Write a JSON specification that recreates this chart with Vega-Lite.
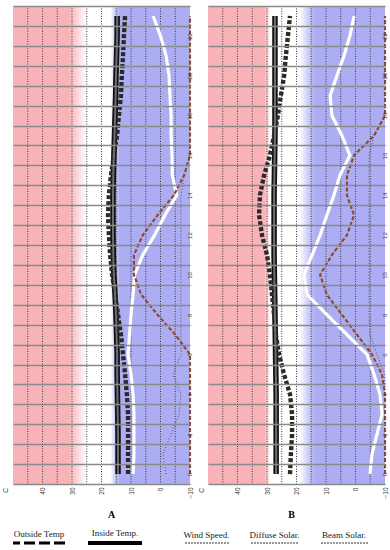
{
  "$schema": "https://vega.github.io/schema/vega-lite/v6.json",
  "background": "white",
  "padding": {"left": 2, "top": 4, "right": 0, "bottom": 0},
  "config": {"view": {"stroke": null}, "font": "Liberation Sans", "axis": {"labelOverlap": false, "labelFlush": false}},
  "columns": 1,
  "datasets": {
    "grid": [{"g": 45}, {"g": 40}, {"g": 35}, {"g": 30}, {"g": 25}, {"g": 20}, {"g": 15}, {"g": 10}, {"g": 5}, {"g": 0}, {"g": -5}],
    "bgA": [
      {"kind": "hot", "from": 50, "to": 31},
      {"kind": "hotfade", "from": 31, "to": 25},
      {"kind": "coldfade", "from": 17, "to": 14.3},
      {"kind": "cold", "from": 14.3, "to": -10}
    ],
    "bgB": [
      {"kind": "hot", "from": 50, "to": 30.5},
      {"kind": "hotfade", "from": 30.5, "to": 29},
      {"kind": "coldfade", "from": 19, "to": 14},
      {"kind": "cold", "from": 14, "to": -10}
    ],
    "linesA": [
      {"s": "Inside", "hour": 0, "t": 14.4}, {"s": "Inside", "hour": 1, "t": 14.4}, {"s": "Inside", "hour": 2, "t": 14.4}, {"s": "Inside", "hour": 3, "t": 14.5}, {"s": "Inside", "hour": 4, "t": 14.6}, {"s": "Inside", "hour": 5, "t": 14.7}, {"s": "Inside", "hour": 6, "t": 14.7}, {"s": "Inside", "hour": 7, "t": 14.9}, {"s": "Inside", "hour": 8, "t": 15.1}, {"s": "Inside", "hour": 9, "t": 15.4}, {"s": "Inside", "hour": 10, "t": 15.8}, {"s": "Inside", "hour": 11, "t": 16.0}, {"s": "Inside", "hour": 12, "t": 16.1}, {"s": "Inside", "hour": 13, "t": 16.1}, {"s": "Inside", "hour": 14, "t": 16.1}, {"s": "Inside", "hour": 15, "t": 16.0}, {"s": "Inside", "hour": 16, "t": 15.8}, {"s": "Inside", "hour": 17, "t": 15.6}, {"s": "Inside", "hour": 18, "t": 15.4}, {"s": "Inside", "hour": 19, "t": 15.2}, {"s": "Inside", "hour": 20, "t": 15.1}, {"s": "Inside", "hour": 21, "t": 14.9}, {"s": "Inside", "hour": 22, "t": 14.7}, {"s": "Inside", "hour": 23, "t": 14.7},
      {"s": "Outside", "hour": 0, "t": 11.0}, {"s": "Outside", "hour": 1, "t": 11.0}, {"s": "Outside", "hour": 2, "t": 11.0}, {"s": "Outside", "hour": 3, "t": 11.0}, {"s": "Outside", "hour": 4, "t": 11.4}, {"s": "Outside", "hour": 5, "t": 12.0}, {"s": "Outside", "hour": 6, "t": 12.7}, {"s": "Outside", "hour": 7, "t": 13.4}, {"s": "Outside", "hour": 8, "t": 14.4}, {"s": "Outside", "hour": 9, "t": 15.4}, {"s": "Outside", "hour": 10, "t": 16.4}, {"s": "Outside", "hour": 11, "t": 17.1}, {"s": "Outside", "hour": 12, "t": 17.5}, {"s": "Outside", "hour": 13, "t": 17.8}, {"s": "Outside", "hour": 14, "t": 17.5}, {"s": "Outside", "hour": 15, "t": 16.8}, {"s": "Outside", "hour": 16, "t": 15.8}, {"s": "Outside", "hour": 17, "t": 14.7}, {"s": "Outside", "hour": 18, "t": 14.1}, {"s": "Outside", "hour": 19, "t": 13.4}, {"s": "Outside", "hour": 20, "t": 13.1}, {"s": "Outside", "hour": 21, "t": 12.7}, {"s": "Outside", "hour": 22, "t": 12.4}, {"s": "Outside", "hour": 23, "t": 12.0},
      {"s": "Wind", "hour": 0, "t": 9.3}, {"s": "Wind", "hour": 1, "t": 9.0}, {"s": "Wind", "hour": 2, "t": 9.0}, {"s": "Wind", "hour": 3, "t": 9.0}, {"s": "Wind", "hour": 4, "t": 9.3}, {"s": "Wind", "hour": 5, "t": 10.0}, {"s": "Wind", "hour": 6, "t": 11.0}, {"s": "Wind", "hour": 7, "t": 10.5}, {"s": "Wind", "hour": 8, "t": 10.0}, {"s": "Wind", "hour": 9, "t": 9.3}, {"s": "Wind", "hour": 10, "t": 8.8}, {"s": "Wind", "hour": 11, "t": 6.0}, {"s": "Wind", "hour": 12, "t": 2.0}, {"s": "Wind", "hour": 13, "t": -1.5}, {"s": "Wind", "hour": 14, "t": -5.5}, {"s": "Wind", "hour": 15, "t": -4.0}, {"s": "Wind", "hour": 16, "t": -3.9}, {"s": "Wind", "hour": 17, "t": -3.6}, {"s": "Wind", "hour": 18, "t": -3.6}, {"s": "Wind", "hour": 19, "t": -3.2}, {"s": "Wind", "hour": 20, "t": -2.9}, {"s": "Wind", "hour": 21, "t": -1.9}, {"s": "Wind", "hour": 22, "t": 0.0}, {"s": "Wind", "hour": 23, "t": 2.5},
      {"s": "Beam", "hour": 0, "t": -1.9}, {"s": "Beam", "hour": 1, "t": -0.8}, {"s": "Beam", "hour": 2, "t": -3.6}, {"s": "Beam", "hour": 3, "t": -6.3}, {"s": "Beam", "hour": 4, "t": -6.9}, {"s": "Beam", "hour": 5, "t": -4.2}, {"s": "Beam", "hour": 6, "t": -7.0}, {"s": "Beam", "hour": 7, "t": -6.9}, {"s": "Beam", "hour": 8, "t": -6.9}, {"s": "Beam", "hour": 9, "t": -6.9}, {"s": "Beam", "hour": 10, "t": -6.9}, {"s": "Beam", "hour": 11, "t": -6.9}, {"s": "Beam", "hour": 12, "t": -6.9}, {"s": "Beam", "hour": 13, "t": -6.9}, {"s": "Beam", "hour": 14, "t": -6.9}, {"s": "Beam", "hour": 15, "t": -8.0}, {"s": "Beam", "hour": 16, "t": -10}, {"s": "Beam", "hour": 23, "t": -10},
      {"s": "Diffuse", "hour": 0, "t": -10}, {"s": "Diffuse", "hour": 6, "t": -10}, {"s": "Diffuse", "hour": 7, "t": -5}, {"s": "Diffuse", "hour": 8, "t": 1}, {"s": "Diffuse", "hour": 9, "t": 6.5}, {"s": "Diffuse", "hour": 10, "t": 9.0}, {"s": "Diffuse", "hour": 11, "t": 9.0}, {"s": "Diffuse", "hour": 12, "t": 6.0}, {"s": "Diffuse", "hour": 13, "t": 1.0}, {"s": "Diffuse", "hour": 14, "t": -4.5}, {"s": "Diffuse", "hour": 15, "t": -8}, {"s": "Diffuse", "hour": 16, "t": -10}, {"s": "Diffuse", "hour": 23, "t": -10}
    ],
    "linesB": [
      {"s": "Inside", "hour": 0, "t": 26.9}, {"s": "Inside", "hour": 1, "t": 26.9}, {"s": "Inside", "hour": 2, "t": 26.9}, {"s": "Inside", "hour": 3, "t": 26.9}, {"s": "Inside", "hour": 4, "t": 26.9}, {"s": "Inside", "hour": 5, "t": 27.0}, {"s": "Inside", "hour": 6, "t": 27.1}, {"s": "Inside", "hour": 7, "t": 27.2}, {"s": "Inside", "hour": 8, "t": 27.3}, {"s": "Inside", "hour": 9, "t": 27.4}, {"s": "Inside", "hour": 10, "t": 27.5}, {"s": "Inside", "hour": 11, "t": 27.6}, {"s": "Inside", "hour": 12, "t": 27.6}, {"s": "Inside", "hour": 13, "t": 27.6}, {"s": "Inside", "hour": 14, "t": 27.6}, {"s": "Inside", "hour": 15, "t": 27.5}, {"s": "Inside", "hour": 16, "t": 27.4}, {"s": "Inside", "hour": 17, "t": 27.3}, {"s": "Inside", "hour": 18, "t": 27.3}, {"s": "Inside", "hour": 19, "t": 27.3}, {"s": "Inside", "hour": 20, "t": 27.3}, {"s": "Inside", "hour": 21, "t": 27.3}, {"s": "Inside", "hour": 22, "t": 27.3}, {"s": "Inside", "hour": 23, "t": 27.3},
      {"s": "Outside", "hour": 0, "t": 22.2}, {"s": "Outside", "hour": 1, "t": 21.9}, {"s": "Outside", "hour": 2, "t": 21.5}, {"s": "Outside", "hour": 3, "t": 21.5}, {"s": "Outside", "hour": 4, "t": 22.2}, {"s": "Outside", "hour": 5, "t": 24.2}, {"s": "Outside", "hour": 6, "t": 25.9}, {"s": "Outside", "hour": 7, "t": 27.0}, {"s": "Outside", "hour": 8, "t": 27.6}, {"s": "Outside", "hour": 9, "t": 28.3}, {"s": "Outside", "hour": 10, "t": 29.0}, {"s": "Outside", "hour": 11, "t": 30.0}, {"s": "Outside", "hour": 12, "t": 31.7}, {"s": "Outside", "hour": 13, "t": 32.7}, {"s": "Outside", "hour": 14, "t": 32.4}, {"s": "Outside", "hour": 15, "t": 31.0}, {"s": "Outside", "hour": 16, "t": 29.0}, {"s": "Outside", "hour": 17, "t": 27.6}, {"s": "Outside", "hour": 18, "t": 26.3}, {"s": "Outside", "hour": 19, "t": 25.3}, {"s": "Outside", "hour": 20, "t": 24.2}, {"s": "Outside", "hour": 21, "t": 23.6}, {"s": "Outside", "hour": 22, "t": 22.9}, {"s": "Outside", "hour": 23, "t": 22.2},
      {"s": "Wind", "hour": 0, "t": -4.9}, {"s": "Wind", "hour": 1, "t": -5.6}, {"s": "Wind", "hour": 2, "t": -7.3}, {"s": "Wind", "hour": 3, "t": -9.0}, {"s": "Wind", "hour": 4, "t": -8.3}, {"s": "Wind", "hour": 5, "t": -6.3}, {"s": "Wind", "hour": 6, "t": -3.9}, {"s": "Wind", "hour": 7, "t": 2.9}, {"s": "Wind", "hour": 8, "t": 9.7}, {"s": "Wind", "hour": 9, "t": 16.4}, {"s": "Wind", "hour": 10, "t": 17.5}, {"s": "Wind", "hour": 11, "t": 14.7}, {"s": "Wind", "hour": 12, "t": 12.0}, {"s": "Wind", "hour": 13, "t": 9.7}, {"s": "Wind", "hour": 14, "t": 7.3}, {"s": "Wind", "hour": 15, "t": 5.3}, {"s": "Wind", "hour": 16, "t": 1.9}, {"s": "Wind", "hour": 17, "t": 4.6}, {"s": "Wind", "hour": 18, "t": 8.0}, {"s": "Wind", "hour": 19, "t": 8.6}, {"s": "Wind", "hour": 20, "t": 6.3}, {"s": "Wind", "hour": 21, "t": 3.9}, {"s": "Wind", "hour": 22, "t": 1.9}, {"s": "Wind", "hour": 23, "t": 0.5},
      {"s": "Diffuse", "hour": 0, "t": -10}, {"s": "Diffuse", "hour": 4, "t": -10}, {"s": "Diffuse", "hour": 5, "t": -9}, {"s": "Diffuse", "hour": 6, "t": -5.6}, {"s": "Diffuse", "hour": 7, "t": -0.5}, {"s": "Diffuse", "hour": 8, "t": 4.6}, {"s": "Diffuse", "hour": 9, "t": 9.7}, {"s": "Diffuse", "hour": 10, "t": 12.0}, {"s": "Diffuse", "hour": 11, "t": 8.0}, {"s": "Diffuse", "hour": 12, "t": 2.9}, {"s": "Diffuse", "hour": 13, "t": 0.5}, {"s": "Diffuse", "hour": 14, "t": 2.9}, {"s": "Diffuse", "hour": 15, "t": 2.9}, {"s": "Diffuse", "hour": 16, "t": 0.5}, {"s": "Diffuse", "hour": 17, "t": -6.3}, {"s": "Diffuse", "hour": 18, "t": -10}, {"s": "Diffuse", "hour": 23, "t": -10},
      {"s": "Beam", "hour": 0, "t": -10}, {"s": "Beam", "hour": 5, "t": -10}, {"s": "Beam", "hour": 6, "t": -7.3}, {"s": "Beam", "hour": 7, "t": -4.9}, {"s": "Beam", "hour": 8, "t": -4.6}, {"s": "Beam", "hour": 12, "t": -4.6}, {"s": "Beam", "hour": 16, "t": -4.6}, {"s": "Beam", "hour": 17, "t": -6.3}, {"s": "Beam", "hour": 18, "t": -10}, {"s": "Beam", "hour": 23, "t": -10}
    ]
  },
  "concat": [
    {
      "hconcat": [
        {
          "width": 177, "height": 478,
          "title": {"text": "A", "orient": "bottom", "font": "Liberation Serif", "fontSize": 10, "fontWeight": "bold", "offset": 12, "dx": 10},
          "layer": [
            {
              "data": {"name": "bgA"},
              "transform": [{"filter": "datum.kind == 'hot' || datum.kind == 'cold'"}],
              "mark": {"type": "rect"},
              "encoding": {
                "x": {"field": "from", "type": "quantitative", "scale": {"domain": [-10, 50], "reverse": true, "nice": false, "zero": false},
                  "axis": {"orient": "bottom", "values": [40, 30, 20, 10, 0, -10], "tickCount": 30, "labelOverlap": false, "labelAngle": -90, "labelAlign": "right", "labelBaseline": "middle", "labelFontSize": 6.5, "labelColor": "#333", "labelPadding": 3, "ticks": false, "domain": false, "grid": false, "title": "C", "titleAngle": -90, "titleFontSize": 6.5, "titleFontWeight": "normal", "titleColor": "#333", "titleX": -8, "titleY": 6, "titleAlign": "center", "titleBaseline": "middle"}},
                "x2": {"field": "to"},
                "fill": {"field": "kind", "type": "nominal", "scale": {"domain": ["hot", "cold"], "range": ["#f8b3b8", "#adadf4"]}, "legend": null}
              }
            },
            {
              "data": {"name": "bgA"},
              "transform": [{"filter": "datum.kind == 'hotfade'"}],
              "mark": {"type": "rect", "fill": {"gradient": "linear", "x1": 0, "x2": 1, "y1": 0, "y2": 0, "stops": [{"offset": 0, "color": "#f8b3b8"}, {"offset": 1, "color": "#ffffff"}]}},
              "encoding": {"x": {"field": "from", "type": "quantitative"}, "x2": {"field": "to"}}
            },
            {
              "data": {"name": "bgA"},
              "transform": [{"filter": "datum.kind == 'coldfade'"}],
              "mark": {"type": "rect", "fill": {"gradient": "linear", "x1": 0, "x2": 1, "y1": 0, "y2": 0, "stops": [{"offset": 0, "color": "#ffffff"}, {"offset": 1, "color": "#adadf4"}]}},
              "encoding": {"x": {"field": "from", "type": "quantitative"}, "x2": {"field": "to"}}
            },
            {
              "data": {"name": "grid"},
              "mark": {"type": "rule", "stroke": "#3a3a3a", "strokeWidth": 1, "strokeDash": [1, 1.5]},
              "encoding": {"x": {"field": "g", "type": "quantitative"}}
            },
            {
              "data": {"name": "linesA"},
              "transform": [{"filter": "datum.s == 'Wind'"}],
              "mark": {"type": "line", "stroke": "#7a7a7a", "strokeWidth": 2.6},
              "encoding": {
                "x": {"field": "t", "type": "quantitative"},
                "y": {"field": "hour", "type": "ordinal", "sort": "descending", "scale": {"domain": [23, 22, 21, 20, 19, 18, 17, 16, 15, 14, 13, 12, 11, 10, 9, 8, 7, 6, 5, 4, 3, 2, 1, 0], "paddingInner": 0, "paddingOuter": 0},
                  "axis": {"orient": "right", "tickBand": "extent", "labelExpr": "datum.value % 2 == 0 ? datum.label : ''", "labelOverlap": false, "labelAngle": -90, "labelAlign": "center", "labelBaseline": "bottom", "labelFontSize": 6, "labelColor": "#444", "labelPadding": 2, "ticks": false, "domain": false, "grid": true, "gridColor": "#8a8a8a", "gridWidth": 1.3, "zindex": 1, "title": null}},
                "order": {"field": "hour"}
              }
            },
            {
              "data": {"name": "linesA"},
              "mark": {"type": "line"},
              "encoding": {
                "x": {"field": "t", "type": "quantitative"},
                "y": {"field": "hour", "type": "ordinal", "sort": "descending"},
                "order": {"field": "hour"},
                "stroke": {"field": "s", "type": "nominal", "scale": {"domain": ["Inside", "Outside", "Wind", "Diffuse", "Beam"], "range": ["#111111", "#2a2a2a", "#ffffff", "#8b4a2b", "#505050"]}, "legend": null},
                "strokeWidth": {"field": "s", "type": "nominal", "scale": {"domain": ["Inside", "Outside", "Wind", "Diffuse", "Beam"], "range": [5.5, 1, 1.1, 1, 1.1]}, "legend": null},
                "strokeDash": {"field": "s", "type": "nominal", "scale": {"domain": ["Inside", "Outside", "Wind", "Diffuse", "Beam"], "range": [[1, 0], [4, 2], [1, 0], [4, 2], [1, 2]]}, "legend": null}
              }
            },
            {
              "data": {"name": "linesA"},
              "transform": [{"filter": "datum.s == 'Inside'"}],
              "mark": {"type": "line", "stroke": "#6e6e6e", "strokeWidth": 2},
              "encoding": {
                "x": {"field": "t", "type": "quantitative"},
                "y": {"field": "hour", "type": "ordinal", "sort": "descending"},
                "order": {"field": "hour"}
              }
            },
            {
              "mark": {"type": "text", "angle": 270, "align": "right", "baseline": "middle", "fontSize": 6, "color": "#555", "text": "Monday 1st January (1) - LARNACA, CYP"},
              "encoding": {"x": {"datum": 51.0, "type": "quantitative"}, "y": {"datum": 23, "type": "ordinal"}}
            },
            {
              "mark": {"type": "text", "angle": 270, "align": "left", "baseline": "middle", "fontSize": 6, "color": "#555", "text": "HOURLY TEMPERATURES - Zone 1"},
              "encoding": {"x": {"datum": 51.4, "type": "quantitative"}, "y": {"datum": 0, "type": "ordinal"}}
            },
            {
              "mark": {"type": "text", "angle": 270, "align": "left", "baseline": "middle", "fontSize": 5.5, "fontStyle": "italic", "fontWeight": "bold", "color": "#333", "text": "NOTE:  Values shown are environmental temperatures, not air temperatures."},
              "encoding": {"x": {"datum": 48.0, "type": "quantitative"}, "y": {"datum": 0, "type": "ordinal"}}
            }
          ]
        },
        {
          "width": 177, "height": 478,
          "title": {"text": "B", "orient": "bottom", "font": "Liberation Serif", "fontSize": 10, "fontWeight": "bold", "offset": 12, "dx": -5},
          "layer": [
            {
              "data": {"name": "bgB"},
              "transform": [{"filter": "datum.kind == 'hot' || datum.kind == 'cold'"}],
              "mark": {"type": "rect"},
              "encoding": {
                "x": {"field": "from", "type": "quantitative", "scale": {"domain": [-10, 50], "reverse": true, "nice": false, "zero": false},
                  "axis": {"orient": "bottom", "values": [40, 30, 20, 10, 0, -10], "tickCount": 30, "labelOverlap": false, "labelAngle": -90, "labelAlign": "right", "labelBaseline": "middle", "labelFontSize": 6.5, "labelColor": "#333", "labelPadding": 3, "ticks": false, "domain": false, "grid": false, "title": "C", "titleAngle": -90, "titleFontSize": 6.5, "titleFontWeight": "normal", "titleColor": "#333", "titleX": -7, "titleY": 6, "titleAlign": "center", "titleBaseline": "middle"}},
                "x2": {"field": "to"},
                "fill": {"field": "kind", "type": "nominal", "scale": {"domain": ["hot", "cold"], "range": ["#f8b3b8", "#adadf4"]}, "legend": null}
              }
            },
            {
              "data": {"name": "bgB"},
              "transform": [{"filter": "datum.kind == 'hotfade'"}],
              "mark": {"type": "rect", "fill": {"gradient": "linear", "x1": 0, "x2": 1, "y1": 0, "y2": 0, "stops": [{"offset": 0, "color": "#f8b3b8"}, {"offset": 1, "color": "#ffffff"}]}},
              "encoding": {"x": {"field": "from", "type": "quantitative"}, "x2": {"field": "to"}}
            },
            {
              "data": {"name": "bgB"},
              "transform": [{"filter": "datum.kind == 'coldfade'"}],
              "mark": {"type": "rect", "fill": {"gradient": "linear", "x1": 0, "x2": 1, "y1": 0, "y2": 0, "stops": [{"offset": 0, "color": "#ffffff"}, {"offset": 1, "color": "#adadf4"}]}},
              "encoding": {"x": {"field": "from", "type": "quantitative"}, "x2": {"field": "to"}}
            },
            {
              "data": {"name": "grid"},
              "mark": {"type": "rule", "stroke": "#3a3a3a", "strokeWidth": 1, "strokeDash": [1, 1.5]},
              "encoding": {"x": {"field": "g", "type": "quantitative"}}
            },
            {
              "data": {"name": "linesB"},
              "transform": [{"filter": "datum.s == 'Wind'"}],
              "mark": {"type": "line", "stroke": "#7a7a7a", "strokeWidth": 2.6},
              "encoding": {
                "x": {"field": "t", "type": "quantitative"},
                "y": {"field": "hour", "type": "ordinal", "sort": "descending", "scale": {"domain": [23, 22, 21, 20, 19, 18, 17, 16, 15, 14, 13, 12, 11, 10, 9, 8, 7, 6, 5, 4, 3, 2, 1, 0], "paddingInner": 0, "paddingOuter": 0},
                  "axis": {"orient": "right", "tickBand": "extent", "labelExpr": "datum.value % 2 == 0 ? datum.label : ''", "labelOverlap": false, "labelAngle": -90, "labelAlign": "center", "labelBaseline": "bottom", "labelFontSize": 6, "labelColor": "#444", "labelPadding": 2, "ticks": false, "domain": false, "grid": true, "gridColor": "#8a8a8a", "gridWidth": 1.3, "zindex": 1, "title": null}},
                "order": {"field": "hour"}
              }
            },
            {
              "data": {"name": "linesB"},
              "mark": {"type": "line"},
              "encoding": {
                "x": {"field": "t", "type": "quantitative"},
                "y": {"field": "hour", "type": "ordinal", "sort": "descending"},
                "order": {"field": "hour"},
                "stroke": {"field": "s", "type": "nominal", "scale": {"domain": ["Inside", "Outside", "Wind", "Diffuse", "Beam"], "range": ["#111111", "#2a2a2a", "#ffffff", "#8b4a2b", "#505050"]}, "legend": null},
                "strokeWidth": {"field": "s", "type": "nominal", "scale": {"domain": ["Inside", "Outside", "Wind", "Diffuse", "Beam"], "range": [5.5, 1, 1.1, 1, 1.1]}, "legend": null},
                "strokeDash": {"field": "s", "type": "nominal", "scale": {"domain": ["Inside", "Outside", "Wind", "Diffuse", "Beam"], "range": [[1, 0], [4, 2], [1, 0], [4, 2], [1, 2]]}, "legend": null}
              }
            },
            {
              "data": {"name": "linesB"},
              "transform": [{"filter": "datum.s == 'Inside'"}],
              "mark": {"type": "line", "stroke": "#6e6e6e", "strokeWidth": 2},
              "encoding": {
                "x": {"field": "t", "type": "quantitative"},
                "y": {"field": "hour", "type": "ordinal", "sort": "descending"},
                "order": {"field": "hour"}
              }
            },
            {
              "mark": {"type": "text", "angle": 270, "align": "right", "baseline": "middle", "fontSize": 6, "color": "#555", "text": "Friday 22nd June (173) - LARNACA, CYP"},
              "encoding": {"x": {"datum": 51.4, "type": "quantitative"}, "y": {"datum": 23, "type": "ordinal"}}
            },
            {
              "mark": {"type": "text", "angle": 270, "align": "left", "baseline": "middle", "fontSize": 6, "color": "#555", "text": "HOURLY TEMPERATURES - Zone 1"},
              "encoding": {"x": {"datum": 52.0, "type": "quantitative"}, "y": {"datum": 0, "type": "ordinal"}}
            },
            {
              "mark": {"type": "text", "angle": 270, "align": "left", "baseline": "middle", "fontSize": 5.5, "fontStyle": "italic", "fontWeight": "bold", "color": "#333", "text": "NOTE:  Values shown are environmental temperatures, not air temperatures."},
              "encoding": {"x": {"datum": 48.0, "type": "quantitative"}, "y": {"datum": 0, "type": "ordinal"}}
            }
          ]
        }
      ],
      "spacing": 3
    },
    {
      "hconcat": [
        {"width": 52, "height": 2, "data": {"values": [{"item": "Outside Temp"}]}, "title": {"text": "Outside Temp", "font": "Liberation Serif", "fontSize": 9, "fontWeight": "normal", "color": "#222", "offset": 3}, "mark": {"type": "rule", "color": "black", "strokeWidth": 3, "strokeDash": [11, 4]}, "encoding": {"y": {"datum": 0, "type": "quantitative", "axis": null}}},
        {"width": 54, "height": 2, "data": {"values": [{"item": "Inside Temp."}]}, "title": {"text": "Inside Temp.", "font": "Liberation Serif", "fontSize": 9, "fontWeight": "normal", "color": "#222", "offset": 3}, "mark": {"type": "rule", "color": "black", "strokeWidth": 4}, "encoding": {"y": {"datum": 0, "type": "quantitative", "axis": null}}},
        {"width": 1, "height": 2, "data": {"values": [{"item": ""}]}, "mark": {"type": "rule", "opacity": 0}, "encoding": {"y": {"datum": 0, "type": "quantitative", "axis": null}}},
        {"width": 45, "height": 2, "data": {"values": [{"item": "Wind Speed."}]}, "title": {"text": "Wind Speed.", "font": "Liberation Serif", "fontSize": 9, "fontWeight": "normal", "color": "#222", "offset": 3}, "mark": {"type": "rule", "color": "#333", "strokeWidth": 1, "strokeDash": [2, 1]}, "encoding": {"y": {"datum": 0, "type": "quantitative", "axis": null}}},
        {"width": 47, "height": 2, "data": {"values": [{"item": "Diffuse Solar."}]}, "title": {"text": "Diffuse Solar.", "font": "Liberation Serif", "fontSize": 9, "fontWeight": "normal", "color": "#222", "offset": 3}, "mark": {"type": "rule", "color": "#333", "strokeWidth": 1, "strokeDash": [2, 1]}, "encoding": {"y": {"datum": 0, "type": "quantitative", "axis": null}}},
        {"width": 48, "height": 2, "data": {"values": [{"item": "Beam Solar."}]}, "title": {"text": "Beam Solar.", "font": "Liberation Serif", "fontSize": 9, "fontWeight": "normal", "color": "#222", "offset": 3}, "mark": {"type": "rule", "color": "#333", "strokeWidth": 1, "strokeDash": [2, 1]}, "encoding": {"y": {"datum": 0, "type": "quantitative", "axis": null}}}
      ],
      "spacing": 19
    }
  ],
  "spacing": 8
}
